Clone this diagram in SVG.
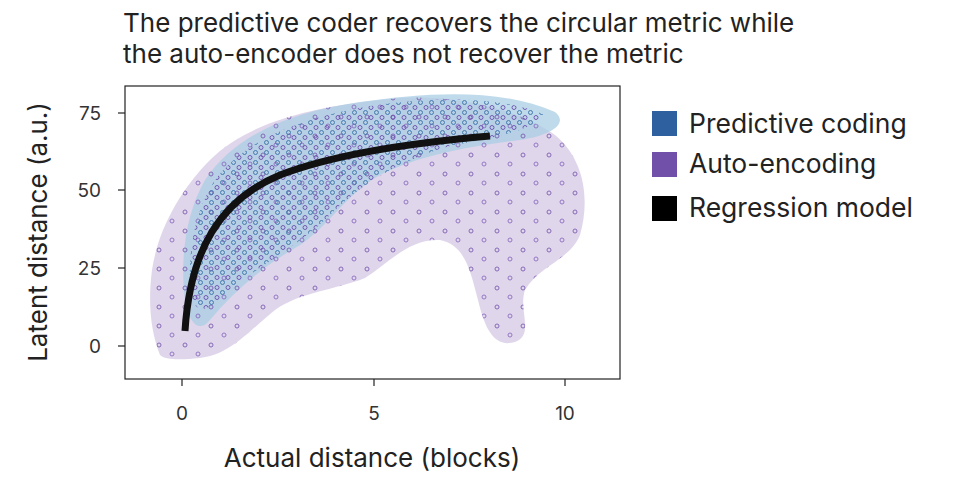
<svg xmlns="http://www.w3.org/2000/svg" width="967" height="485" viewBox="0 0 967 485">
<style>
text{font-family:"Inter","Liberation Sans",sans-serif;fill:#222}
.t{font-size:26px}.k{font-size:19px;fill:#333}.ax{font-size:26px}.lg{font-size:26.5px}
.tick{stroke:#222;stroke-width:1.2}
</style>
<defs>
<pattern id="pd" width="26" height="19" patternUnits="userSpaceOnUse">
<circle cx="3" cy="3" r="2" fill="none" stroke="#7a5cb0" stroke-width="0.9"/>
<circle cx="16" cy="12" r="2" fill="none" stroke="#8a6cc0" stroke-width="0.9"/>
</pattern>
<pattern id="bd" width="11" height="10" patternUnits="userSpaceOnUse">
<circle cx="2.5" cy="2.5" r="2" fill="none" stroke="#3a70a8" stroke-width="0.9"/>
<circle cx="8" cy="7.5" r="2" fill="none" stroke="#6a4caa" stroke-width="0.9"/>
</pattern>
</defs>
<rect width="967" height="485" fill="#fff"/>
<text class="t" x="123" y="32">The predictive coder recovers the circular metric while</text>
<text class="t" x="123" y="63">the auto-encoder does not recover the metric</text>
<g id="plot">
<rect x="125" y="86" width="495" height="293" fill="none" stroke="#222" stroke-width="1.2"/>
<path id="purple" d="M160,355 C150,330 148,300 152,270 C158,230 180,190 210,160 C250,120 320,105 400,98 C460,95 520,110 555,135 C585,160 590,200 580,235 C570,260 540,265 525,290 C518,310 535,335 515,342 C495,348 485,330 478,300 C470,270 465,245 440,240 C410,238 390,262 365,278 C335,290 300,292 275,310 C250,330 230,355 200,358 C180,360 165,360 160,355 Z" fill="#ddd2e9" opacity="0.9"/>
<path id="blue" d="M185,300 C180,260 185,215 205,180 C235,135 290,112 360,102 C430,92 500,88 555,112 C568,122 555,135 520,140 C470,146 420,155 380,175 C345,195 330,225 300,245 C265,265 235,290 210,320 C198,335 188,320 185,300 Z" fill="#a9cde4" opacity="0.75"/>
<path d="M160,355 C150,330 148,300 152,270 C158,230 180,190 210,160 C250,120 320,105 400,98 C460,95 520,110 555,135 C585,160 590,200 580,235 C570,260 540,265 525,290 C518,310 535,335 515,342 C495,348 485,330 478,300 C470,270 465,245 440,240 C410,238 390,262 365,278 C335,290 300,292 275,310 C250,330 230,355 200,358 C180,360 165,360 160,355 Z" fill="url(#pd)"/>
<path d="M190,290 C188,250 195,210 215,180 C245,140 300,118 370,106 C430,97 500,95 545,115 C530,132 490,138 450,146 C400,160 360,185 330,215 C300,245 260,265 230,290 C210,310 195,320 190,290 Z" fill="url(#bd)"/>
<path id="reg" d="M185,331 C190,250 220,200 280,175 C340,152 420,142 490,136" fill="none" stroke="#111" stroke-width="7"/>
<line class="tick" x1="182" y1="379" x2="182" y2="386"/><line class="tick" x1="374" y1="379" x2="374" y2="386"/><line class="tick" x1="565" y1="379" x2="565" y2="386"/>
<line class="tick" x1="118" y1="113" x2="125" y2="113"/><line class="tick" x1="118" y1="190" x2="125" y2="190"/><line class="tick" x1="118" y1="268" x2="125" y2="268"/><line class="tick" x1="118" y1="346" x2="125" y2="346"/>
<text class="k" x="182" y="420" text-anchor="middle">0</text>
<text class="k" x="374" y="420" text-anchor="middle">5</text>
<text class="k" x="565" y="420" text-anchor="middle">10</text>
<text class="k" x="101" y="120" text-anchor="end">75</text>
<text class="k" x="101" y="197" text-anchor="end">50</text>
<text class="k" x="101" y="275" text-anchor="end">25</text>
<text class="k" x="101" y="353" text-anchor="end">0</text>
<text class="ax" x="372" y="467" text-anchor="middle">Actual distance (blocks)</text>
<text class="ax" transform="translate(47,232) rotate(-90)" text-anchor="middle">Latent distance (a.u.)</text>
</g>
<g id="legend">
<rect x="652" y="111" width="25" height="25" fill="#2e5f9e"/>
<text class="lg" x="689" y="133">Predictive coding</text>
<rect x="652" y="152" width="25" height="25" fill="#7050a8"/>
<text class="lg" x="689" y="173">Auto-encoding</text>
<rect x="652" y="196" width="25" height="25" fill="#000"/>
<text class="lg" x="689" y="217">Regression model</text>
</g>
</svg>
